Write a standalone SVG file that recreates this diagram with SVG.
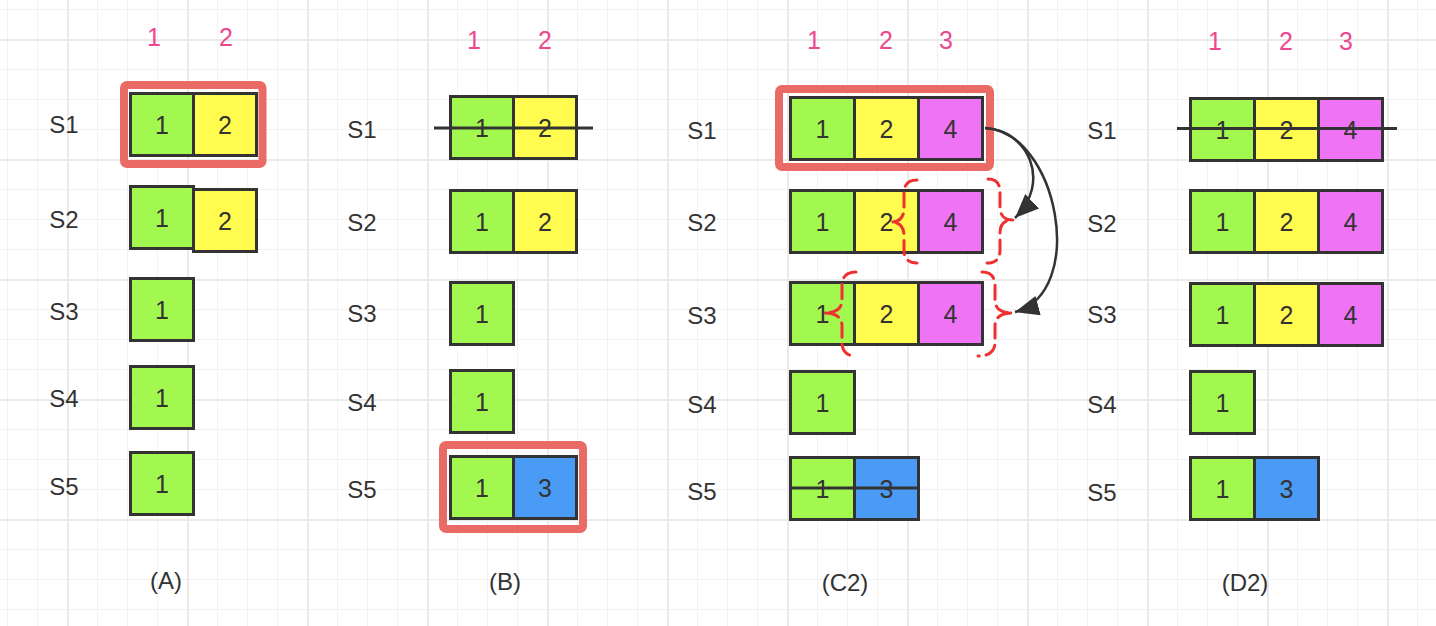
<svg xmlns="http://www.w3.org/2000/svg" width="1436" height="626" viewBox="0 0 1436 626">
<style>
.c{stroke:#333;stroke-width:3}
.g{fill:#a3f84f}.y{fill:#fffb4f}.m{fill:#ee74f5}.b{fill:#4a9bf5}
.n{font-family:"Liberation Sans",Arial,sans-serif;font-size:25px;fill:#333;text-anchor:middle}
.l{font-family:"Liberation Sans",Arial,sans-serif;font-size:24px;fill:#333;text-anchor:middle}
.h{font-family:"Liberation Sans",Arial,sans-serif;font-size:25px;fill:#ec4891;text-anchor:middle}
.f{font-family:"Liberation Sans",Arial,sans-serif;font-size:24px;fill:#333;text-anchor:middle}
.hl{fill:none;stroke:#ea6b66;stroke-width:8}
.st{stroke:#333;stroke-width:3}
.d{fill:none;stroke:#ee3030;stroke-width:3;stroke-dasharray:14 7;stroke-linecap:round}
.ar{fill:none;stroke:#333;stroke-width:2.5}
</style>
<defs>
<pattern id="grid" patternUnits="userSpaceOnUse" x="7" y="9" width="120" height="120">
<rect x="0" y="0" width="1" height="120" fill="#f2f2f2"/>
<rect x="30" y="0" width="1" height="120" fill="#f2f2f2"/>
<rect x="90" y="0" width="1" height="120" fill="#f2f2f2"/>
<rect x="0" y="0" width="120" height="1" fill="#f2f2f2"/>
<rect x="0" y="60" width="120" height="1" fill="#f2f2f2"/>
<rect x="0" y="90" width="120" height="1" fill="#f2f2f2"/>
<rect x="60" y="0" width="2" height="120" fill="#eaeaea"/>
<rect x="0" y="30" width="120" height="2" fill="#eaeaea"/>
</pattern>
<marker id="arr" markerUnits="userSpaceOnUse" markerWidth="26" markerHeight="22" refX="24" refY="10" orient="auto">
<path d="M0,0 L24,10 L0,20 Z" fill="#333"/>
</marker>
</defs>
<rect width="1436" height="626" fill="#fff"/>
<rect width="1436" height="626" fill="url(#grid)"/>

<!-- Panel A -->
<g id="A-headers"><text class="h" x="154" y="46">1</text><text class="h" x="226" y="46">2</text></g>
<g id="A-labels">
<text class="l" x="64" y="133">S1</text><text class="l" x="64" y="227.5">S2</text><text class="l" x="64" y="320">S3</text><text class="l" x="64" y="407">S4</text><text class="l" x="64" y="494.5">S5</text>
</g>
<g id="A-S1">
<rect class="hl" x="124" y="85" width="138.5" height="79" rx="3"/>
<rect class="c g" x="130.5" y="93.5" width="63" height="62"/><rect class="c y" x="193.5" y="93.5" width="63" height="62"/>
<text class="n" x="162" y="133.5">1</text><text class="n" x="225" y="133.5">2</text>
</g>
<g id="A-S2">
<rect class="c g" x="130.5" y="186.5" width="63" height="62"/><rect class="c y" x="193.5" y="189.5" width="63" height="62"/>
<text class="n" x="162" y="226.5">1</text><text class="n" x="225" y="229.5">2</text>
</g>
<g id="A-S3"><rect class="c g" x="130.5" y="278.5" width="63" height="62"/><text class="n" x="162" y="318.5">1</text></g>
<g id="A-S4"><rect class="c g" x="130.5" y="366.5" width="63" height="62"/><text class="n" x="162" y="406.5">1</text></g>
<g id="A-S5"><rect class="c g" x="130.5" y="452.5" width="63" height="62"/><text class="n" x="162" y="492.5">1</text></g>
<text class="f" x="166" y="589">(A)</text>

<!-- Panel B -->
<g id="B-headers"><text class="h" x="474" y="49">1</text><text class="h" x="545" y="49">2</text></g>
<g id="B-labels">
<text class="l" x="362" y="137.5">S1</text><text class="l" x="362" y="230.5">S2</text><text class="l" x="362" y="321.5">S3</text><text class="l" x="362" y="410.5">S4</text><text class="l" x="362" y="497.5">S5</text>
</g>
<g id="B-S1">
<rect class="c g" x="450.5" y="96.5" width="63" height="62"/><rect class="c y" x="513.5" y="96.5" width="63" height="62"/>
<text class="n" x="482" y="136.5">1</text><text class="n" x="545" y="136.5">2</text>
<line class="st" x1="434" y1="128" x2="593" y2="128"/>
</g>
<g id="B-S2">
<rect class="c g" x="450.5" y="190.5" width="63" height="62"/><rect class="c y" x="513.5" y="190.5" width="63" height="62"/>
<text class="n" x="482" y="230.5">1</text><text class="n" x="545" y="230.5">2</text>
</g>
<g id="B-S3"><rect class="c g" x="450.5" y="282.5" width="63" height="62"/><text class="n" x="482" y="322.5">1</text></g>
<g id="B-S4"><rect class="c g" x="450.5" y="370.5" width="63" height="62"/><text class="n" x="482" y="410.5">1</text></g>
<g id="B-S5">
<rect class="hl" x="443" y="445" width="140" height="84" rx="3"/>
<rect class="c g" x="450.5" y="456.5" width="63" height="62"/><rect class="c b" x="513.5" y="456.5" width="63" height="62"/>
<text class="n" x="482" y="496.5">1</text><text class="n" x="545" y="496.5">3</text>
</g>
<text class="f" x="505" y="589.5">(B)</text>

<!-- Panel C -->
<g id="C-headers"><text class="h" x="814" y="49">1</text><text class="h" x="886" y="49">2</text><text class="h" x="946" y="49">3</text></g>
<g id="C-labels">
<text class="l" x="702" y="138.5">S1</text><text class="l" x="702" y="230.5">S2</text><text class="l" x="702" y="323.5">S3</text><text class="l" x="702" y="412.5">S4</text><text class="l" x="702" y="499.5">S5</text>
</g>
<g id="C-S1">
<rect class="hl" x="779" y="89" width="211" height="78" rx="3"/>
<rect class="c g" x="790.5" y="97.5" width="64" height="62"/><rect class="c y" x="854.5" y="97.5" width="64" height="62"/><rect class="c m" x="918.5" y="97.5" width="64" height="62"/>
<text class="n" x="822.5" y="137.5">1</text><text class="n" x="886.5" y="137.5">2</text><text class="n" x="950.5" y="137.5">4</text>
</g>
<g id="C-S2">
<rect class="c g" x="790.5" y="190.5" width="64" height="62"/><rect class="c y" x="854.5" y="190.5" width="64" height="62"/><rect class="c m" x="918.5" y="190.5" width="64" height="62"/>
<text class="n" x="822.5" y="230.5">1</text><text class="n" x="886.5" y="230.5">2</text><text class="n" x="950.5" y="230.5">4</text>
</g>
<g id="C-S3">
<rect class="c g" x="790.5" y="282.5" width="64" height="62"/><rect class="c y" x="854.5" y="282.5" width="64" height="62"/><rect class="c m" x="918.5" y="282.5" width="64" height="62"/>
<text class="n" x="822.5" y="322.5">1</text><text class="n" x="886.5" y="322.5">2</text><text class="n" x="950.5" y="322.5">4</text>
</g>
<g id="C-S4"><rect class="c g" x="790.5" y="371.5" width="64" height="62"/><text class="n" x="822.5" y="411.5">1</text></g>
<g id="C-S5">
<rect class="c g" x="790.5" y="457.5" width="64" height="62"/><rect class="c b" x="854.5" y="457.5" width="64" height="62"/>
<text class="n" x="822.5" y="497.5">1</text><text class="n" x="886.5" y="497.5">3</text>
<line class="st" x1="789" y1="488" x2="918" y2="488"/>
</g>
<g id="C-brackets">
<path class="d" d="M917,180 Q904,180 904,193 L904,208 Q904,222 891,222 Q904,222 904,236 L904,250 Q904,263 917,263"/>
<path class="d" d="M988,179 Q1000,179 1000,192 L1000,207 Q1000,220 1013,220 Q1000,220 1000,233 L1000,250 Q1000,263 987,263"/>
<path class="d" d="M856,272 Q842,272 842,286 L842,300 Q842,313 824,313 Q842,313 842,326 L842,342 Q842,356 856,356"/>
<path class="d" d="M982,272 Q995,272 995,286 L995,300 Q995,313 1013,313 Q995,313 995,326 L995,342 Q995,356 978,356"/>
</g>
<text class="f" x="845" y="590.5">(C2)</text>

<!-- Panel D -->
<g id="D-headers"><text class="h" x="1215" y="50">1</text><text class="h" x="1286" y="50">2</text><text class="h" x="1346" y="50">3</text></g>
<g id="D-labels">
<text class="l" x="1102" y="138.5">S1</text><text class="l" x="1102" y="231.5">S2</text><text class="l" x="1102" y="323">S3</text><text class="l" x="1102" y="412.5">S4</text><text class="l" x="1102" y="500.5">S5</text>
</g>
<g id="D-S1">
<rect class="c g" x="1190.5" y="98.5" width="64" height="62"/><rect class="c y" x="1254.5" y="98.5" width="64" height="62"/><rect class="c m" x="1318.5" y="98.5" width="64" height="62"/>
<text class="n" x="1222.5" y="138.5">1</text><text class="n" x="1286.5" y="138.5">2</text><text class="n" x="1350.5" y="138.5">4</text>
<line class="st" x1="1177" y1="128.5" x2="1397" y2="128.5"/>
</g>
<g id="D-S2">
<rect class="c g" x="1190.5" y="190.5" width="64" height="62"/><rect class="c y" x="1254.5" y="190.5" width="64" height="62"/><rect class="c m" x="1318.5" y="190.5" width="64" height="62"/>
<text class="n" x="1222.5" y="230.5">1</text><text class="n" x="1286.5" y="230.5">2</text><text class="n" x="1350.5" y="230.5">4</text>
</g>
<g id="D-S3">
<rect class="c g" x="1190.5" y="283.5" width="64" height="62"/><rect class="c y" x="1254.5" y="283.5" width="64" height="62"/><rect class="c m" x="1318.5" y="283.5" width="64" height="62"/>
<text class="n" x="1222.5" y="323.5">1</text><text class="n" x="1286.5" y="323.5">2</text><text class="n" x="1350.5" y="323.5">4</text>
</g>
<g id="D-S4"><rect class="c g" x="1190.5" y="371.5" width="64" height="62"/><text class="n" x="1222.5" y="411.5">1</text></g>
<g id="D-S5">
<rect class="c g" x="1190.5" y="457.5" width="64" height="62"/><rect class="c b" x="1254.5" y="457.5" width="64" height="62"/>
<text class="n" x="1222.5" y="497.5">1</text><text class="n" x="1286.5" y="497.5">3</text>
</g>
<text class="f" x="1245" y="590.5">(D2)</text>

<g id="connectors">
<path class="ar" d="M985,128 C1028,130 1052,182 1015,218" marker-end="url(#arr)"/>
<path class="ar" d="M985,128 C1058,132 1088,292 1015,312" marker-end="url(#arr)"/>
</g>
</svg>
